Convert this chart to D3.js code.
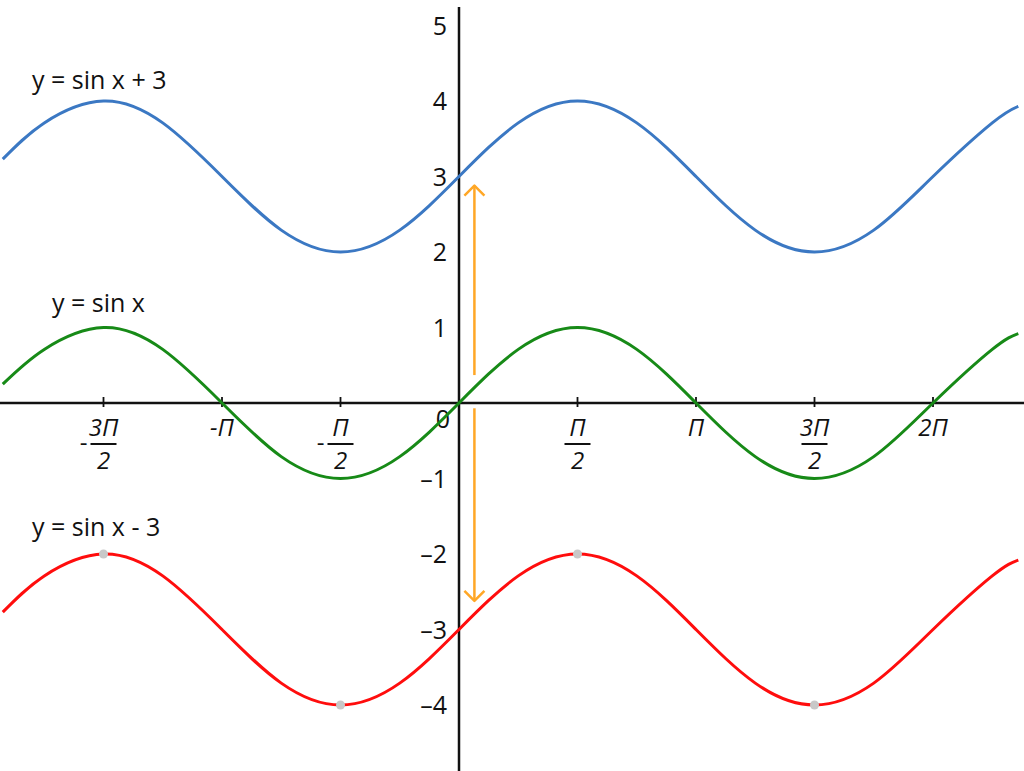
<!DOCTYPE html>
<html>
<head>
<meta charset="utf-8">
<script src="https://cdn.jsdelivr.net/npm/d3@7"></script>
<style>
  body { margin: 0; background: #fff; }
  svg { display: block; font-family: 'Open Sans', 'Lato', sans-serif; }
</style>
</head>
<body>
<svg id="chart" width="1024" height="771"></svg>
<script>
// x positions in units of π/2
const xs = [-3.85, -3.5, -3, -2.5, -2, -1.5, -1, -0.5, 0, 0.5, 1, 1.5, 2, 2.5, 3, 3.5, 4, 4.5, 4.72];
const sinVals = [0.25, 0.71, 1, 0.71, 0, -0.71, -1, -0.71, 0, 0.71, 1, 0.71, 0, -0.71, -1, -0.71, 0, 0.71, 0.92];
const sinPlus3 = [3.23, 3.71, 4, 3.71, 3, 2.29, 2, 2.29, 3, 3.71, 4, 3.71, 3, 2.29, 2, 2.29, 3, 3.71, 3.93];
const sinMinus3 = [-2.77, -2.29, -2, -2.29, -3, -3.71, -4, -3.71, -3, -2.29, -2, -2.29, -3, -3.71, -4, -3.71, -3, -2.29, -2.08];

const seriesNames = ['y = sin x + 3', 'y = sin x', 'y = sin x - 3'];
const seriesColors = ['#3b78c3', '#178a17', '#ff0d0d'];

// x tick labels: [sign, numerator, denominator]
const xTicks = [-3, -2, -1, 1, 2, 3, 4];
const xTickLabels = [['-', '3Π', '2'], ['-', 'Π', ''], ['-', 'Π', '2'], ['', 'Π', '2'], ['', 'Π', ''], ['', '3Π', '2'], ['', '2Π', '']];
const yTicks = [5, 4, 3, 2, 1, -1, -2, -3, -4];

// extreme points marked on the lower curve
const markX = [-3, -1, 1, 3];
const markY = [-2, -4, -2, -4];

// shift arrows (x, from, to)
const arrowX = 0.13;
const arrowUp = [0.37, 2.88];
const arrowDown = [-0.07, -2.62];

const svg = d3.select('#chart');
const x = d3.scaleLinear().domain([-3, 4]).range([103.5, 933]);
const y = d3.scaleLinear().domain([-4, 4]).range([705, 101]);

// axes
svg.append('line')
  .attr('x1', 0).attr('x2', 1024)
  .attr('y1', y(0)).attr('y2', y(0))
  .attr('stroke', '#111').attr('stroke-width', 2.5);
svg.append('line')
  .attr('x1', x(0)).attr('x2', x(0))
  .attr('y1', 7).attr('y2', 771)
  .attr('stroke', '#111').attr('stroke-width', 2.5);

// x ticks
const xt = svg.append('g');
xt.selectAll('line')
  .data(xTicks)
  .enter().append('line')
  .attr('x1', d => x(d)).attr('x2', d => x(d))
  .attr('y1', y(0) - 6).attr('y2', y(0) + 4)
  .attr('stroke', '#111').attr('stroke-width', 1.8);

xTicks.forEach((t, i) => {
  const [sign, num, den] = xTickLabels[i];
  const cx = x(t);
  const g = xt.append('g').attr('font-size', 24).attr('fill', '#111');
  if (den) {
    g.append('text').attr('x', cx).attr('y', y(0) + 33)
      .attr('text-anchor', 'middle').attr('font-style', 'italic').text(num);
    g.append('line')
      .attr('x1', cx - 13).attr('x2', cx + 13)
      .attr('y1', y(0) + 41).attr('y2', y(0) + 41)
      .attr('stroke', '#111').attr('stroke-width', 2);
    g.append('text').attr('x', cx).attr('y', y(0) + 66)
      .attr('text-anchor', 'middle').attr('font-style', 'italic').text(den);
    if (sign) {
      g.append('text').attr('x', cx - 16).attr('y', y(0) + 48)
        .attr('text-anchor', 'end').text('-');
    }
  } else {
    g.append('text').attr('x', cx).attr('y', y(0) + 33)
      .attr('text-anchor', 'middle').attr('font-style', 'italic').text(sign + num);
  }
});

// y tick labels
svg.append('g').selectAll('text')
  .data(yTicks)
  .enter().append('text')
  .attr('x', x(0) - 12)
  .attr('y', d => y(d) + 9)
  .attr('text-anchor', 'end')
  .attr('font-size', 25)
  .attr('fill', '#111')
  .text(d => d < 0 ? '–' + Math.abs(d) : d);

svg.append('text')
  .attr('x', x(0) - 9).attr('y', y(0) + 25)
  .attr('text-anchor', 'end').attr('font-size', 25).attr('fill', '#111')
  .text('0');

// curves
const line = d3.line()
  .x((d, i) => x(xs[i]))
  .y(d => y(d))
  .curve(d3.curveNatural);

[sinPlus3, sinVals, sinMinus3].forEach((vals, i) => {
  svg.append('path')
    .datum(vals)
    .attr('d', line)
    .attr('fill', 'none')
    .attr('stroke', seriesColors[i])
    .attr('stroke-width', 3);
});

// marked extremes
svg.append('g').selectAll('circle')
  .data(markX)
  .enter().append('circle')
  .attr('cx', d => x(d))
  .attr('cy', (d, i) => y(markY[i]))
  .attr('r', 4.5)
  .attr('fill', '#c8c8c8');

// orange arrows
const orange = '#ffa726';
function arrow(from, to) {
  const ax = x(arrowX);
  const y1 = y(from), y2 = y(to);
  const dir = y2 < y1 ? 1 : -1;
  svg.append('line')
    .attr('x1', ax).attr('x2', ax).attr('y1', y1).attr('y2', y2)
    .attr('stroke', orange).attr('stroke-width', 2.5);
  svg.append('path')
    .attr('d', `M${ax - 10},${y2 + dir * 10} L${ax},${y2} L${ax + 10},${y2 + dir * 10}`)
    .attr('fill', 'none').attr('stroke', orange).attr('stroke-width', 2.5)
    .attr('stroke-linejoin', 'round');
}
arrow(arrowUp[0], arrowUp[1]);
arrow(arrowDown[0], arrowDown[1]);

// series labels
const labelPos = [[32, 89], [52, 312], [32, 536]];
seriesNames.forEach((n, i) => {
  svg.append('text')
    .attr('x', labelPos[i][0]).attr('y', labelPos[i][1])
    .attr('font-size', 25).attr('fill', '#111')
    .text(n);
});
</script>
</body>
</html>
